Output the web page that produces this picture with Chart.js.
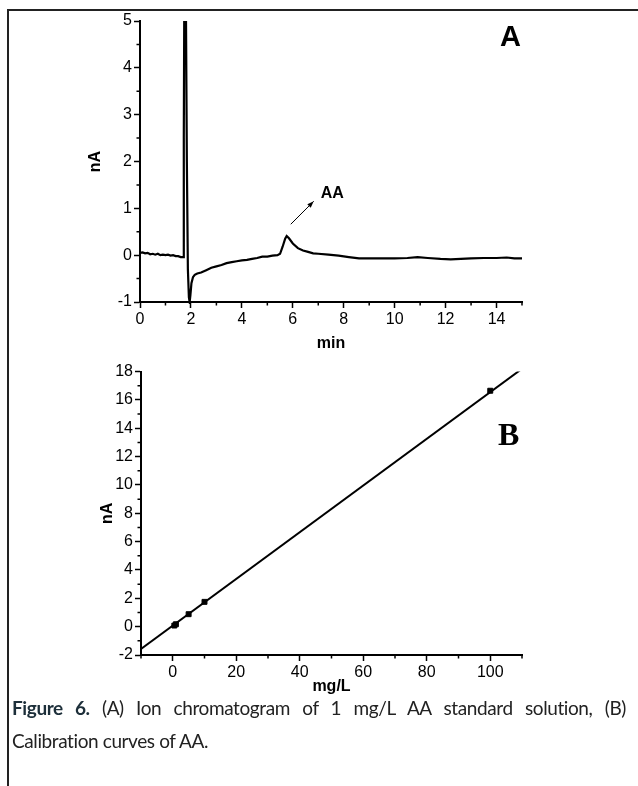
<!DOCTYPE html>
<html>
<head>
<meta charset="utf-8">
<script src="https://cdn.jsdelivr.net/npm/chart.js@4.4.1/dist/chart.umd.min.js"></script>
<style>
  html, body { margin: 0; padding: 0; background: #fff; }
  body { width: 638px; height: 786px; position: relative; overflow: hidden; }
  .frame { position: absolute; left: 7px; top: 9px; width: 640px; height: 800px;
           border-left: 2px solid #222; border-top: 2px solid #222; }
  .box { position: absolute; left: 0; width: 638px; }
  #boxA { top: 0; height: 360px; }
  #boxB { top: 360px; height: 340px; }
  .tag { position: absolute; color: #000; }
  #tagA { left: 500px; top: 20px; font-family: "Liberation Sans", Arial, sans-serif; font-weight: bold; font-size: 29px; }
  #tagB { left: 498px; top: 416px; font-family: "Liberation Serif", serif; font-weight: bold; font-size: 32px; }
  #caption { position: absolute; left: 12px; top: 691px; width: 614px;
             font: 19px Lato, "Open Sans", sans-serif; letter-spacing: -0.4px; color: #222; line-height: 33px; }
  #caption .l1 { text-align: justify; text-align-last: justify; }
  #caption b { color: #1d2f3a; }
</style>
</head>
<body>
<div class="frame"></div>
<div class="box" id="boxA"><canvas id="chromChart"></canvas></div>
<div class="box" id="boxB"><canvas id="calibChart"></canvas></div>
<div class="tag" id="tagA">A</div>
<div class="tag" id="tagB">B</div>
<div id="caption"><div class="l1"><b>Figure 6.</b> (A) Ion chromatogram of 1 mg/L AA standard solution, (B)</div><div>Calibration curves of AA.</div></div>
<script>
// (A) chromatogram
const times = [0.0, 0.1, 0.2, 0.3, 0.4, 0.5, 0.6, 0.7, 0.8, 0.9, 1.0, 1.1, 1.2, 1.3, 1.4, 1.5, 1.6, 1.7,
  1.72, 1.74, 1.80, 1.84, 1.88, 1.92, 1.95, 1.98, 2.02, 2.08, 2.15, 2.25, 2.4, 2.6, 2.8, 3.0, 3.2, 3.4,
  3.6, 3.8, 4.0, 4.2, 4.4, 4.6, 4.8, 5.0, 5.2, 5.4, 5.5, 5.6, 5.7, 5.76, 5.85, 6.0, 6.2, 6.4, 6.6, 6.8,
  7.0, 7.4, 7.8, 8.2, 8.6, 9.0, 9.5, 10.0, 10.5, 10.9, 11.3, 11.8, 12.2, 12.6, 13.0, 13.5, 14.0, 14.4, 14.7, 15.0];
const signal = [0.05, 0.06, 0.04, 0.05, 0.02, 0.03, 0.01, 0.03, 0.0, 0.01, 0.0, 0.01, -0.01, 0.0, -0.02, -0.02, -0.04, -0.04,
  2.5, 5.6, 5.6, 2.0, -0.3, -0.9, -1.0, -0.85, -0.6, -0.47, -0.42, -0.39, -0.37, -0.32, -0.27, -0.24, -0.21, -0.17,
  -0.15, -0.13, -0.11, -0.1, -0.08, -0.06, -0.03, -0.03, -0.01, 0.0, 0.03, 0.18, 0.35, 0.41, 0.36, 0.25, 0.15, 0.1, 0.07, 0.04,
  0.03, 0.01, -0.01, -0.04, -0.07, -0.07, -0.07, -0.07, -0.06, -0.04, -0.06, -0.08, -0.09, -0.08, -0.07, -0.06, -0.06, -0.05, -0.07, -0.07];
const timeTicks = [0, 2, 4, 6, 8, 10, 12, 14];
const timeMinor = [1, 3, 5, 7, 9, 11, 13, 15];
const signalTicks = [-1, 0, 1, 2, 3, 4, 5];
const signalMinor = [-0.5, 0.5, 1.5, 2.5, 3.5, 4.5];
const arrowFrom = [5.92, 0.66];
const arrowTo = [6.82, 1.15];

// (B) calibration
const conc = [0.5, 1, 5, 10, 100];
const current = [0.08, 0.17, 0.88, 1.75, 16.65];
const fitX = [-10, 110];
const fitY = [-1.58, 18.2];
const concTicks = [0, 20, 40, 60, 80, 100];
const concMinor = [-10, 10, 30, 50, 70, 90, 110];
const currentTicks = [-2, 0, 2, 4, 6, 8, 10, 12, 14, 16, 18];
const currentMinor = [-1, 1, 3, 5, 7, 9, 11, 13, 15, 17];

Chart.defaults.font.family = '"Liberation Sans", Arial, sans-serif';
Chart.defaults.font.size = 16;
Chart.defaults.color = '#000';

// minor ticks, Origin style (short, outward)
const minorTicks = {
  id: 'minorTicks',
  afterDraw(chart, args, opts) {
    const ctx = chart.ctx;
    ctx.save();
    ctx.strokeStyle = '#000';
    ctx.lineWidth = 1.5;
    ctx.beginPath();
    const xs = chart.scales.x, ys = chart.scales.y;
    opts.x.forEach(v => {
      const px = xs.getPixelForValue(v);
      ctx.moveTo(px, xs.top);
      ctx.lineTo(px, xs.top + 3.5);
    });
    opts.y.forEach(v => {
      const py = ys.getPixelForValue(v);
      ctx.moveTo(ys.right, py);
      ctx.lineTo(ys.right - 3.5, py);
    });
    ctx.stroke();
    ctx.restore();
  }
};

// "AA" label with arrow
const peakLabel = {
  id: 'peakLabel',
  afterDatasetsDraw(chart, args, opts) {
    if (!opts.from) return;
    const ctx = chart.ctx, xs = chart.scales.x, ys = chart.scales.y;
    const x1 = xs.getPixelForValue(opts.from[0]), y1 = ys.getPixelForValue(opts.from[1]);
    const x2 = xs.getPixelForValue(opts.to[0]), y2 = ys.getPixelForValue(opts.to[1]);
    const ang = Math.atan2(y2 - y1, x2 - x1);
    ctx.save();
    ctx.strokeStyle = '#000';
    ctx.fillStyle = '#000';
    ctx.lineWidth = 1;
    ctx.beginPath();
    ctx.moveTo(x1, y1);
    ctx.lineTo(x2, y2);
    ctx.stroke();
    ctx.beginPath();
    ctx.moveTo(x2, y2);
    ctx.lineTo(x2 - 7 * Math.cos(ang - 0.35), y2 - 7 * Math.sin(ang - 0.35));
    ctx.lineTo(x2 - 7 * Math.cos(ang + 0.35), y2 - 7 * Math.sin(ang + 0.35));
    ctx.closePath();
    ctx.fill();
    ctx.font = 'bold 16px "Liberation Sans", Arial, sans-serif';
    ctx.textBaseline = 'middle';
    ctx.fillText(opts.text, x2 + 7, y2 - 8);
    ctx.restore();
  }
};

function axis(min, max, ticks, title, titlePad, size, isX) {
  return {
    type: 'linear',
    min: min,
    max: max,
    afterBuildTicks: s => { s.ticks = ticks.map(v => ({ value: v })); },
    afterFit: s => { if (isX) s.height = size; else s.width = size; },
    border: { color: '#000', width: 2 },
    grid: { drawOnChartArea: false, drawTicks: true, tickLength: 6, tickWidth: 1.5, tickColor: '#000' },
    ticks: { color: '#000', font: { size: 16 }, padding: 2, maxRotation: 0, autoSkip: false },
    title: { display: true, text: title, color: '#000', font: { size: 16, weight: 'bold' }, padding: titlePad }
  };
}

new Chart(document.getElementById('chromChart'), {
  type: 'scatter',
  data: {
    datasets: [{
      data: times.map((t, i) => ({ x: t, y: signal[i] })),
      showLine: true,
      borderColor: '#000',
      borderWidth: 2.2,
      pointRadius: 0,
      tension: 0,
      clip: { left: 2, right: 2, top: 0, bottom: 2 }
    }]
  },
  options: {
    responsive: true,
    maintainAspectRatio: false,
    animation: false,
    layout: { padding: { left: 0, right: 116, top: 21, bottom: 0 } },
    scales: {
      x: axis(0, 15, timeTicks, 'min', { top: 0, bottom: 7 }, 58, true),
      y: axis(-1, 5, signalTicks, 'nA', { top: 86, bottom: 0 }, 140, false)
    },
    plugins: {
      legend: { display: false },
      tooltip: { enabled: false },
      minorTicks: { x: timeMinor, y: signalMinor },
      peakLabel: { from: arrowFrom, to: arrowTo, text: 'AA' }
    }
  },
  plugins: [minorTicks, peakLabel]
});

new Chart(document.getElementById('calibChart'), {
  type: 'scatter',
  data: {
    datasets: [{
      data: fitX.map((x, i) => ({ x: x, y: fitY[i] })),
      showLine: true,
      borderColor: '#000',
      borderWidth: 2,
      pointRadius: 0,
      clip: 0
    }, {
      data: conc.map((c, i) => ({ x: c, y: current[i] })),
      pointStyle: 'rect',
      pointRadius: 3.5,
      backgroundColor: '#000',
      borderColor: '#000'
    }]
  },
  options: {
    responsive: true,
    maintainAspectRatio: false,
    animation: false,
    layout: { padding: { left: 0, right: 116, top: 10, bottom: 0 } },
    scales: {
      x: axis(-10, 110, concTicks, 'mg/L', { top: 0, bottom: 4 }, 45, true),
      y: axis(-2, 18, currentTicks, 'nA', { top: 98, bottom: 0 }, 141, false)
    },
    plugins: {
      legend: { display: false },
      tooltip: { enabled: false },
      minorTicks: { x: concMinor, y: currentMinor },
      peakLabel: {}
    }
  },
  plugins: [minorTicks, peakLabel]
});
</script>
</body>
</html>
